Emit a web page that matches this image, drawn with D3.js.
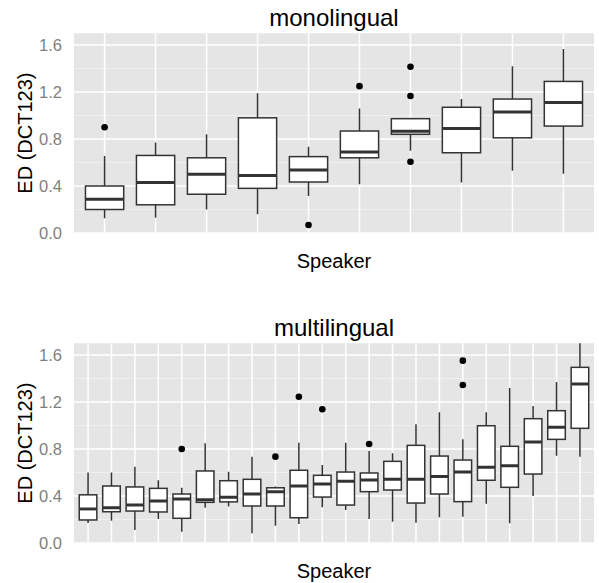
<!DOCTYPE html>
<html>
<head>
<meta charset="utf-8">
<script src="https://cdn.jsdelivr.net/npm/d3@7"></script>
<style>
body { margin: 0; background: #fff; }
text { font-family: "Liberation Sans", Arial, sans-serif; }
</style>
</head>
<body>
<script>
var width = 599, height = 583;

// monolingual speakers (boxplot stats)
var monoSpeakers = ["m1","m2","m3","m4","m5","m6","m7","m8","m9","m10"];
var monoLow  = [0.125, 0.13, 0.20, 0.16, 0.315, 0.415, 0.70, 0.43, 0.53, 0.505];
var monoQ1   = [0.20, 0.24, 0.33, 0.38, 0.434, 0.64, 0.84, 0.683, 0.81, 0.91];
var monoMed  = [0.287, 0.43, 0.50, 0.49, 0.536, 0.69, 0.865, 0.89, 1.03, 1.11];
var monoQ3   = [0.40, 0.66, 0.64, 0.98, 0.65, 0.868, 0.973, 1.07, 1.14, 1.29];
var monoHigh = [0.655, 0.77, 0.84, 1.19, 0.735, 1.06, 0.973, 1.14, 1.42, 1.565];
var monoOut  = [[0.90], [], [], [], [0.068], [1.25], [1.415, 1.166, 0.607], [], [], []];

// multilingual speakers
var multiSpeakers = d3.range(1, 23).map(function(i){ return "s" + i; });
var multiLow  = [0.17, 0.19, 0.11, 0.204, 0.096, 0.30, 0.31, 0.082, 0.147, 0.162, 0.304, 0.281, 0.204, 0.181, 0.173, 0.219, 0.224, 0.335, 0.168, 0.40, 0.743, 0.735];
var multiQ1   = [0.196, 0.266, 0.272, 0.264, 0.21, 0.346, 0.35, 0.315, 0.315, 0.215, 0.391, 0.323, 0.437, 0.451, 0.34, 0.417, 0.352, 0.534, 0.474, 0.587, 0.882, 0.976];
var multiMed  = [0.29, 0.30, 0.323, 0.357, 0.374, 0.369, 0.39, 0.417, 0.437, 0.485, 0.502, 0.525, 0.536, 0.542, 0.542, 0.567, 0.604, 0.644, 0.658, 0.86, 0.985, 1.353];
var multiQ3   = [0.41, 0.485, 0.477, 0.465, 0.417, 0.613, 0.53, 0.542, 0.47, 0.619, 0.576, 0.604, 0.596, 0.695, 0.831, 0.74, 0.706, 0.998, 0.823, 1.058, 1.126, 1.495];
var multiHigh = [0.60, 0.60, 0.65, 0.534, 0.47, 0.848, 0.607, 0.735, 0.48, 0.854, 0.664, 0.854, 0.783, 0.763, 1.01, 1.112, 0.882, 1.112, 1.319, 1.166, 1.37, 1.75];
var multiOut  = [[], [], [], [], [0.80], [], [], [], [0.735], [1.245], [1.138], [], [0.843], [], [], [], [1.552, 1.345], [], [], [], [], []];

var yTicks = [0.0, 0.4, 0.8, 1.2, 1.6];
var yMinor = [0.2, 0.6, 1.0, 1.4];

var svg = d3.select("body").append("svg")
  .attr("width", width)
  .attr("height", height);

function drawPanel(top, title, speakers, low, q1, med, q3, high, outl, clipId) {
  var left = 74, right = 594;
  var y = d3.scaleLinear().domain([0, 1.7]).range([top + 199.75, top]);
  var x = d3.scaleBand().domain(speakers).range([left, right])
    .paddingOuter(0.1).paddingInner(0);
  var bw = x.bandwidth() * 0.75;
  var g = svg.append("g");

  g.append("clipPath").attr("id", clipId)
    .append("rect").attr("x", left).attr("y", top)
    .attr("width", right - left).attr("height", y(0) - top);

  g.append("rect")
    .attr("x", left).attr("y", top)
    .attr("width", right - left).attr("height", y(0) - top)
    .style("fill", "#e5e5e5");

  // minor grid
  g.selectAll(".minor").data(yMinor).enter().append("line")
    .attr("x1", left).attr("x2", right)
    .attr("y1", function(d){ return y(d); }).attr("y2", function(d){ return y(d); })
    .style("stroke", "#f2f2f2").style("stroke-width", 0.8);

  // major grid
  g.selectAll(".major").data(yTicks).enter().append("line")
    .attr("x1", left).attr("x2", right)
    .attr("y1", function(d){ return y(d); }).attr("y2", function(d){ return y(d); })
    .style("stroke", "#fff").style("stroke-width", 1.5);

  g.selectAll(".vgrid").data(speakers).enter().append("line")
    .attr("x1", function(d){ return x(d) + x.bandwidth()/2; })
    .attr("x2", function(d){ return x(d) + x.bandwidth()/2; })
    .attr("y1", top).attr("y2", y(0))
    .style("stroke", "#fff").style("stroke-width", 1.5);

  var marks = g.append("g").attr("clip-path", "url(#" + clipId + ")");

  speakers.forEach(function(s, i) {
    var cx = x(s) + x.bandwidth()/2;
    // whiskers
    marks.append("line")
      .attr("x1", cx).attr("x2", cx)
      .attr("y1", y(q3[i])).attr("y2", y(high[i]))
      .style("stroke", "#333").style("stroke-width", 1.5);
    marks.append("line")
      .attr("x1", cx).attr("x2", cx)
      .attr("y1", y(q1[i])).attr("y2", y(low[i]))
      .style("stroke", "#333").style("stroke-width", 1.5);
    // box
    marks.append("rect")
      .attr("x", cx - bw/2).attr("y", y(q3[i]))
      .attr("width", bw).attr("height", y(q1[i]) - y(q3[i]))
      .style("fill", "#fff").style("stroke", "#333").style("stroke-width", 1.5);
    // median
    marks.append("line")
      .attr("x1", cx - bw/2).attr("x2", cx + bw/2)
      .attr("y1", y(med[i])).attr("y2", y(med[i]))
      .style("stroke", "#333").style("stroke-width", 3);
    outl[i].forEach(function(o) {
      marks.append("circle")
        .attr("cx", cx).attr("cy", y(o)).attr("r", 3.3)
        .style("fill", "#000");
    });
  });

  // tick labels
  g.selectAll(".ytick").data(yTicks).enter().append("text")
    .attr("x", 62).attr("y", function(d){ return y(d); })
    .attr("dy", "0.35em")
    .attr("text-anchor", "end")
    .style("font-size", "16.5px").style("fill", "#7f7f7f")
    .text(function(d){ return d3.format(".1f")(d); });

  g.append("text")
    .attr("x", (left + right)/2).attr("y", top - 7)
    .attr("text-anchor", "middle")
    .style("font-size", "24px").style("fill", "#000")
    .text(title);

  g.append("text")
    .attr("x", (left + right)/2).attr("y", top + 235)
    .attr("text-anchor", "middle")
    .style("font-size", "20px").style("fill", "#000")
    .text("Speaker");

  g.append("text")
    .attr("transform", "translate(32," + ((top + y(0))/2) + ") rotate(-90)")
    .attr("text-anchor", "middle")
    .style("font-size", "20px").style("fill", "#000")
    .text("ED (DCT123)");
}

drawPanel(33.25, "monolingual", monoSpeakers, monoLow, monoQ1, monoMed, monoQ3, monoHigh, monoOut, "clipMono");
drawPanel(343.25, "multilingual", multiSpeakers, multiLow, multiQ1, multiMed, multiQ3, multiHigh, multiOut, "clipMulti");
</script>
</body>
</html>
